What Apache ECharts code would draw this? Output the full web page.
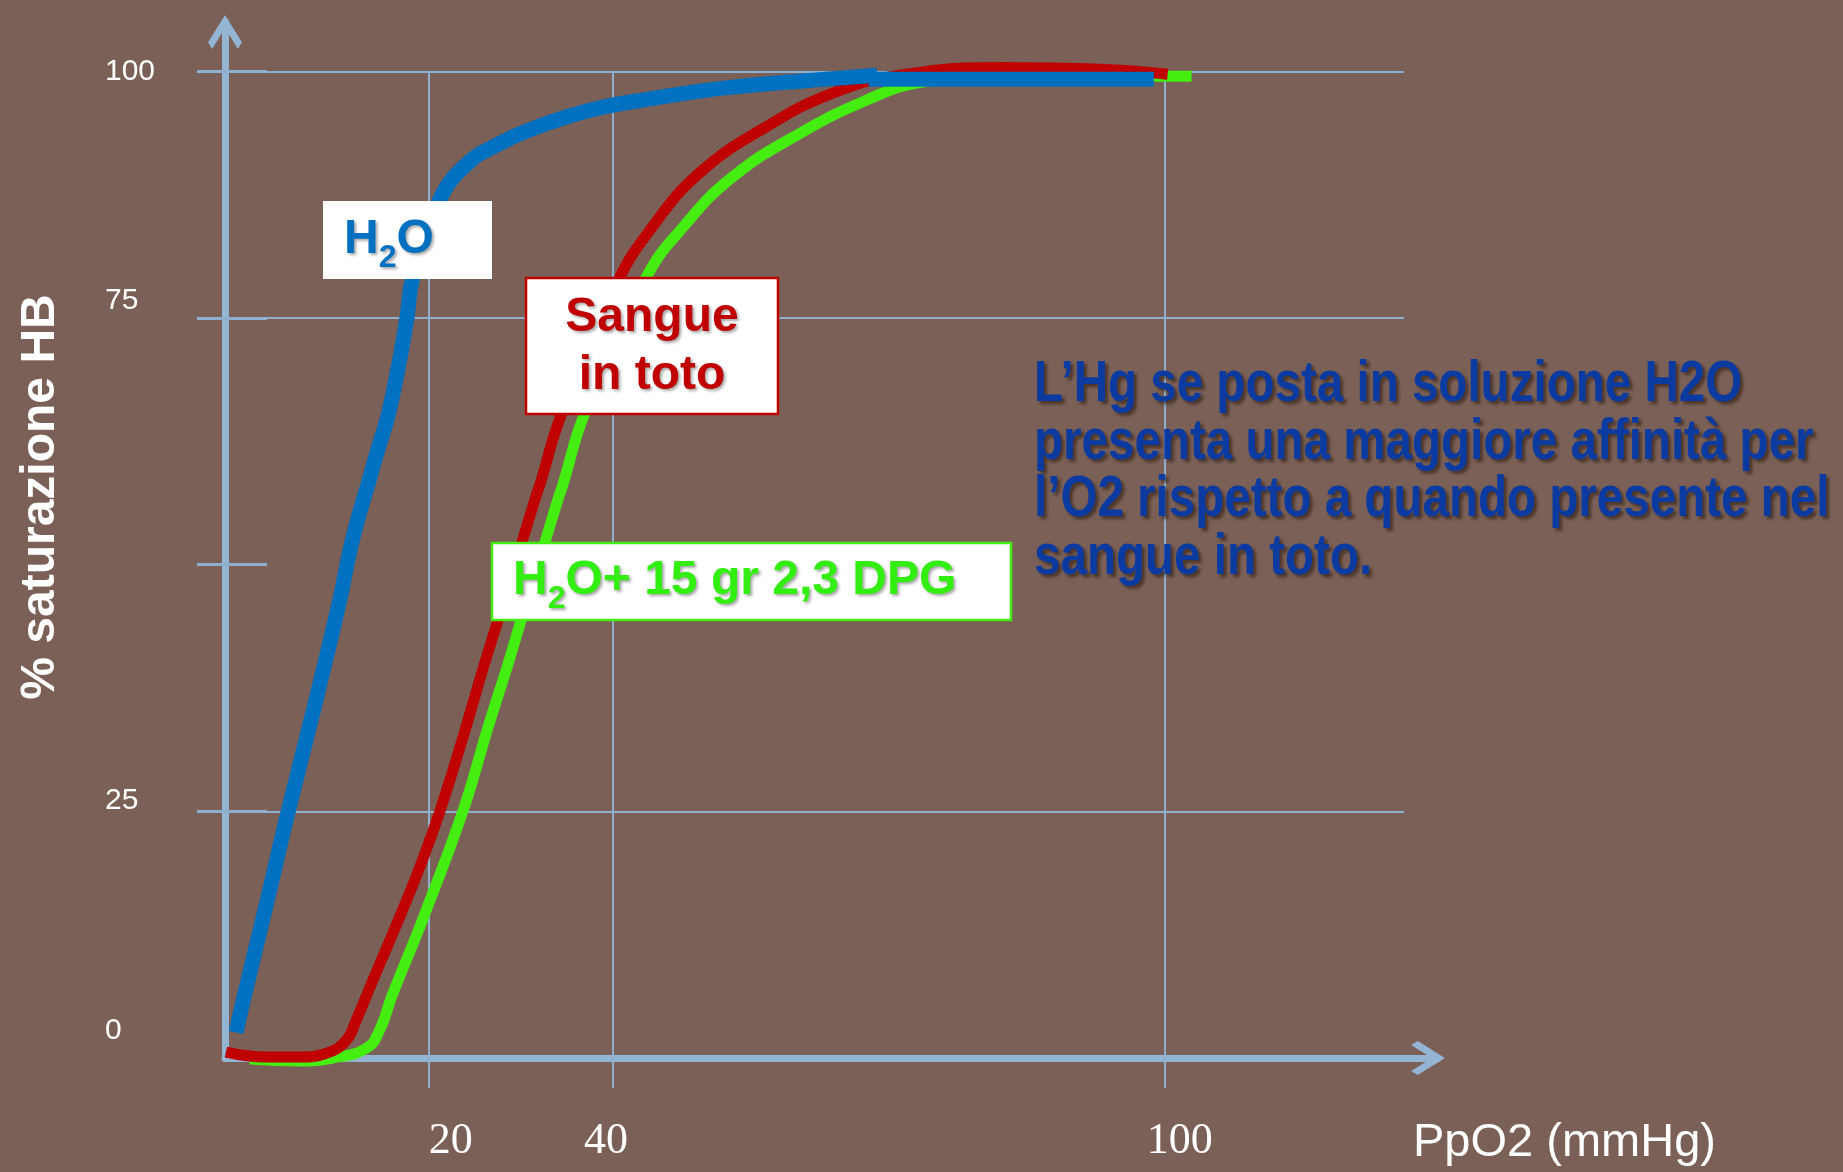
<!DOCTYPE html>
<html>
<head>
<meta charset="utf-8">
<script src="https://cdn.jsdelivr.net/npm/echarts@6/dist/echarts.min.js"></script>
<style>
html,body{margin:0;padding:0;background:#7A6056;}
#c{width:1843px;height:1172px;}
</style>
</head>
<body>
<div id="c"></div>
<script>
// ---- data ----
const xTickValues = [20, 40, 100];
const yTickValues = [25, 50, 75, 100];
const yLabelValues = [0, 25, 75, 100];
const hGridValues = [25, 75, 100];

// H2O (blue) curve: [PpO2, % saturation]
const h2oCurve = [[-1.0,2.6],[-0.2,5.9],[2.4,16.0],[4.7,25.1],[7.7,36.3],[10.3,46.5],[11.4,51.5],[12.3,54.8],[13.4,58.3],[14.4,61.6],[15.5,65.0],[16.3,68.4],[17.0,71.8],[17.6,75.1],[18.2,79.0],[21.1,86.9],[24.1,90.6],[27.7,92.7],[31.3,94.2],[35.0,95.4],[39.0,96.4],[44.0,97.2],[49.4,98.0],[53.0,98.4],[60.3,99.0],[68.7,99.6]];
const h2oPlateau = [[67.8,99.2],[98.8,99.2]];
// Sangue in toto (red)
const sangue = [[-2.1,0.6],[2.3,0.1],[5.9,0.1],[8.9,0.5],[11.0,1.8],[12.1,3.9],[13.75,7.6],[16.8,14.3],[19.0,19.4],[21.2,25.1],[23.8,32.9],[25.9,39.6],[27.6,44.7],[30.1,52.3],[31.5,56.6],[32.1,58.3],[34.4,65.3],[40.4,78.5],[44.0,83.9],[49.4,89.7],[56.7,94.4],[63.9,97.8],[71.2,99.6],[82.1,100.4],[93.0,100.2],[100.3,99.7]];
// H2O + 15 gr 2,3 DPG (green)
const dpg = [[0.5,-0.1],[5.9,-0.3],[9.5,0],[13.2,1.0],[14.6,2.8],[16.0,6.4],[19.4,14.3],[23.7,25.1],[26.4,33.5],[28.7,40.3],[30.1,44.7],[32.6,52.3],[34.0,56.6],[34.6,58.3],[36.9,65.3],[43.6,79.1],[47.6,84.2],[53.0,89.3],[60.3,93.7],[67.6,97.1],[73.0,98.8],[82.1,99.5],[93.0,99.5],[102.9,99.5]];

const xAxisTitle = 'PpO2 (mmHg)';
const yAxisTitle = '% saturazione HB';
const labelH2O = ['H', '2', 'O'];
const labelSangue = ['Sangue', 'in toto'];
const labelDPG = ['H', '2', 'O+ 15 gr 2,3 DPG'];
const noteLines = ['L\u2019Hg se posta in soluzione H2O', 'presenta una maggiore affinit\u00e0 per', 'l\u2019O2 rispetto a quando presente nel', 'sangue in toto.'];

// ---- styles ----
const AXIS = '#93B4D3';
const GRID = '#8FAFCF';
const X_MIN = -2.2, X_MAX = 129.7, Y_MIN = 0, Y_MAX = 105, GRID_END_X = 126;
const chevron = 'path://M50,0 L100,80 L88,100 L50,38 L12,100 L0,80 Z';
const SANS = '"Liberation Sans", Arial, sans-serif';
const SERIF = '"Liberation Serif", "Times New Roman", serif';
const boxShadow = {textShadowColor:'rgba(0,0,0,0.35)', textShadowBlur:3, textShadowOffsetX:2, textShadowOffsetY:2};

const chart = echarts.init(document.getElementById('c'), null, {renderer:'canvas'});

const hLines = hGridValues.map(v => [{coord:[X_MIN, v]}, {coord:[GRID_END_X, v]}]);
const vLines = xTickValues.map(v => [{coord:[v, 0]}, {coord:[v, 100]}]);

const yRich = {
  l0:   {fontSize:30, fontFamily:SANS, color:'#fff', padding:[0,0,54,0]},
  l25:  {fontSize:30, fontFamily:SANS, color:'#fff', padding:[0,0,21,0]},
  l75:  {fontSize:30, fontFamily:SANS, color:'#fff', padding:[0,0,34,0]},
  l100: {fontSize:30, fontFamily:SANS, color:'#fff', padding:[0,0,0,0]}
};
const xRich = {
  x20:  {fontSize:44, fontFamily:SERIF, color:'#fff', padding:[0,0,0,43]},
  x40:  {fontSize:44, fontFamily:SERIF, color:'#fff', padding:[0,14,0,0]},
  x100: {fontSize:44, fontFamily:SERIF, color:'#fff', padding:[0,0,0,30]}
};

function subRich(color, size, subSize) {
  return {
    a: Object.assign({fontSize:size, fontWeight:'bold', fontFamily:SANS, fill:color, lineHeight:size}, boxShadow),
    s: Object.assign({fontSize:subSize, fontWeight:'bold', fontFamily:SANS, fill:color, lineHeight:size, padding:[36,0,0,0]}, boxShadow)
  };
}

const option = {
  backgroundColor: '#7A6056',
  animation: false,
  grid: {left:225, right:405, top:22, bottom:114, containLabel:false},
  xAxis: {
    type:'value', min:X_MIN, max:X_MAX,
    axisLine:{show:true, onZero:false, symbol:['none', chevron], symbolSize:[36,34], symbolOffset:[0,-10], lineStyle:{color:AXIS, width:7}},
    axisTick:{show:true, inside:false, length:30, customValues:xTickValues, lineStyle:{color:GRID, width:2}},
    axisLabel:{show:true, customValues:xTickValues, margin:83, verticalAlign:'middle',
      formatter: v => '{x' + v + '|' + v + '}', rich:xRich},
    splitLine:{show:false}
  },
  yAxis: [{
    type:'value', min:Y_MIN, max:Y_MAX,
    name: yAxisTitle, nameLocation:'middle', nameGap:184, nameRotate:90,
    nameTextStyle:{color:'#fff', fontSize:48, fontWeight:'bold', fontFamily:SANS, align:'center', verticalAlign:'middle', padding:[0,0,0,86]},
    axisLine:{show:true, onZero:false, symbol:['none', chevron], symbolSize:[36,34], symbolOffset:[0,-10], lineStyle:{color:AXIS, width:7}},
    axisTick:{show:true, inside:false, length:28, customValues:yTickValues, lineStyle:{color:GRID, width:3}},
    axisLabel:{show:true, customValues:yLabelValues, margin:120, align:'left', verticalAlign:'middle',
      formatter: v => '{l' + v + '|' + v + '}', rich:yRich},
    splitLine:{show:false}
  }, {
    type:'value', min:Y_MIN, max:Y_MAX, position:'left',
    axisLine:{show:false, onZero:false},
    axisTick:{show:true, inside:true, length:42, customValues:yTickValues, lineStyle:{color:GRID, width:3}},
    axisLabel:{show:false},
    splitLine:{show:false}
  }],
  series: [{
    type:'line', name:'H2O+ 15 gr 2,3 DPG', data:dpg, smooth:0.45, showSymbol:false, clip:false, z:3,
    lineStyle:{color:'#44EE11', width:11}, itemStyle:{color:'#44EE11'},
    markLine:{silent:true, symbol:['none','none'], z:1, label:{show:false},
      lineStyle:{color:GRID, width:2, type:'solid'}, emphasis:{disabled:true},
      data: hLines.concat(vLines)}
  }, {
    type:'line', name:'Sangue in toto', data:sangue, smooth:0.45, showSymbol:false, clip:false, z:4,
    lineStyle:{color:'#C00000', width:11}, itemStyle:{color:'#C00000'}
  }, {
    type:'line', name:'H2O', data:h2oCurve, smooth:0.45, showSymbol:false, clip:false, z:5,
    lineStyle:{color:'#0070C0', width:15}, itemStyle:{color:'#0070C0'}
  }, {
    type:'line', name:'H2O (plateau)', data:h2oPlateau, smooth:false, showSymbol:false, clip:false, z:5,
    lineStyle:{color:'#0070C0', width:15}, itemStyle:{color:'#0070C0'}
  }],
  graphic: [
    {type:'rect', z:100, shape:{x:323, y:201, width:169, height:78}, style:{fill:'#FFFFFF'}},
    {type:'text', z:101, x:344, y:240, style:{
      text:'{a|' + labelH2O[0] + '}{s|' + labelH2O[1] + '}{a|' + labelH2O[2] + '}',
      rich: subRich('#0070C0', 48, 32), align:'left', verticalAlign:'middle'}},
    {type:'rect', z:100, shape:{x:526, y:278, width:252, height:136}, style:{fill:'#FFFFFF', stroke:'#C00000', lineWidth:2.5}},
    {type:'text', z:101, x:652, y:347, style:Object.assign({
      text: labelSangue.join('\n'), fontSize:48, fontWeight:'bold', fontFamily:SANS, fill:'#C00000',
      lineHeight:58, align:'center', verticalAlign:'middle'}, boxShadow)},
    {type:'rect', z:100, shape:{x:492, y:543, width:519, height:77}, style:{fill:'#FFFFFF', stroke:'#44EE11', lineWidth:2.5}},
    {type:'text', z:101, x:513, y:581, style:{
      text:'{a|' + labelDPG[0] + '}{s|' + labelDPG[1] + '}{a|' + labelDPG[2] + '}',
      rich: subRich('#33EE11', 48, 32), align:'left', verticalAlign:'middle'}},
    {type:'text', z:101, x:1034, y:356, scaleX:0.82, style:{
      text: noteLines.join('\n'), fontSize:58, fontWeight:'bold', fontFamily:SANS, fill:'#0B3BA0',
      lineHeight:57.7, align:'left', verticalAlign:'top',
      textShadowColor:'rgba(40,20,10,0.55)', textShadowBlur:3, textShadowOffsetX:3, textShadowOffsetY:3}},
    {type:'text', z:101, x:1413, y:1143, style:{
      text: xAxisTitle, fontSize:47, fontFamily:SANS, fill:'#FFFFFF', align:'left', verticalAlign:'middle'}}
  ]
};
chart.setOption(option);
</script>
</body>
</html>
